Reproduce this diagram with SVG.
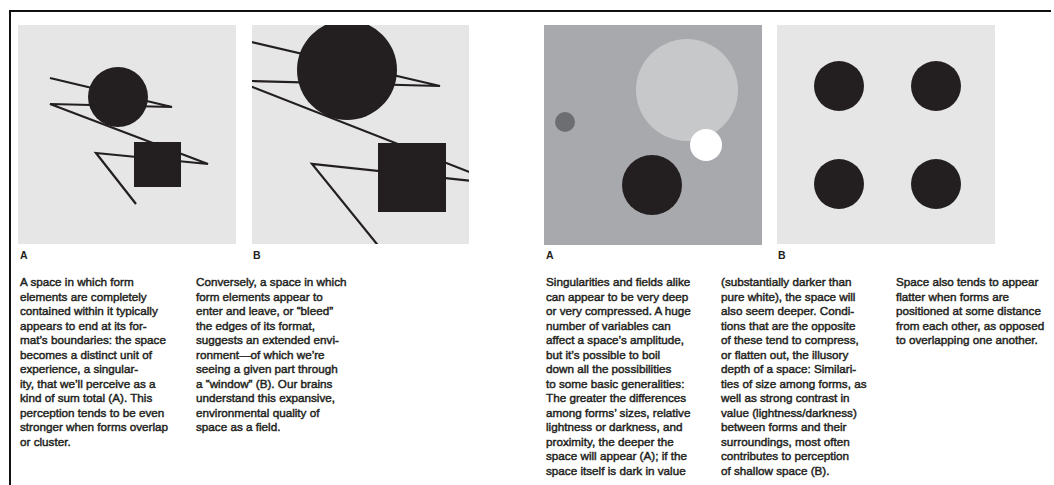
<svg xmlns="http://www.w3.org/2000/svg" width="1054" height="485" viewBox="0 0 1054 485">
<style>
.bg{fill:#ffffff}
.frame{stroke:#111;stroke-width:2;fill:none}
.light{fill:#e6e6e6}
.mid{fill:#a7a9ac}
.ink{fill:#231f20}
.ln{fill:none;stroke:#231f20;stroke-width:2.2;stroke-linejoin:miter}
.lbl{font-family:"Liberation Sans",Arial,sans-serif;font-size:10.5px;font-weight:bold;fill:#231f20}
.body{font-family:"Liberation Sans",Arial,sans-serif;font-size:11.7px;fill:#231f20;stroke:#231f20;stroke-width:0.45}
</style>
<defs>
<clipPath id="clipB"><rect x="252" y="25" width="217" height="219"/></clipPath>
</defs>
<rect class="bg" x="0" y="0" width="1054" height="485"/>
<path class="frame" d="M10,485 V11 H1051"/>

<g id="panel-left-A">
<rect class="light" x="18" y="25" width="218" height="219"/>
<circle class="ink" cx="118" cy="97" r="30"/>
<rect class="ink" x="134" y="142" width="47" height="45"/>
<polyline class="ln" points="50,78 172,107 50,104 208,164 96,153 136,204"/>
<text class="lbl" x="20" y="259">A</text>
</g>

<g id="panel-left-B">
<rect class="light" x="252" y="25" width="217" height="219"/>
<g clip-path="url(#clipB)">
<circle class="ink" cx="347" cy="70" r="50"/>
<rect class="ink" x="378" y="143" width="68" height="69"/>
<polyline class="ln" points="230,37 440,86 236,80.6 500,184 312,164 385,254"/>
</g>
<text class="lbl" x="253" y="259">B</text>
</g>

<g id="panel-right-A">
<rect class="mid" x="544" y="25" width="218" height="220"/>
<circle cx="687" cy="90" r="51" fill="#c7c8ca"/>
<circle cx="565" cy="122" r="10" fill="#6d6e71"/>
<circle cx="706" cy="145" r="16" fill="#ffffff"/>
<circle class="ink" cx="652" cy="185" r="30"/>
<text class="lbl" x="546" y="259">A</text>
</g>

<g id="panel-right-B">
<rect class="light" x="777" y="25" width="218" height="219"/>
<circle class="ink" cx="839" cy="86" r="25"/>
<circle class="ink" cx="936" cy="86" r="25"/>
<circle class="ink" cx="839" cy="184" r="25"/>
<circle class="ink" cx="936" cy="184" r="25"/>
<text class="lbl" x="778" y="259">B</text>
</g>

<g id="text-col-1">
<text class="body" y="286">
<tspan x="20">A space in which form</tspan>
<tspan x="20" dy="14.5">elements are completely</tspan>
<tspan x="20" dy="14.5">contained within it typically</tspan>
<tspan x="20" dy="14.5">appears to end at its for-</tspan>
<tspan x="20" dy="14.5">mat’s boundaries: the space</tspan>
<tspan x="20" dy="14.5">becomes a distinct unit of</tspan>
<tspan x="20" dy="14.5">experience, a singular-</tspan>
<tspan x="20" dy="14.5">ity, that we’ll perceive as a</tspan>
<tspan x="20" dy="14.5">kind of sum total (A). This</tspan>
<tspan x="20" dy="14.5">perception tends to be even</tspan>
<tspan x="20" dy="14.5">stronger when forms overlap</tspan>
<tspan x="20" dy="14.5">or cluster.</tspan>
</text>
</g>

<g id="text-col-2">
<text class="body" y="286">
<tspan x="196">Conversely, a space in which</tspan>
<tspan x="196" dy="14.5">form elements appear to</tspan>
<tspan x="196" dy="14.5">enter and leave, or “bleed”</tspan>
<tspan x="196" dy="14.5">the edges of its format,</tspan>
<tspan x="196" dy="14.5">suggests an extended envi-</tspan>
<tspan x="196" dy="14.5">ronment—of which we’re</tspan>
<tspan x="196" dy="14.5">seeing a given part through</tspan>
<tspan x="196" dy="14.5">a “window” (B). Our brains</tspan>
<tspan x="196" dy="14.5">understand this expansive,</tspan>
<tspan x="196" dy="14.5">environmental quality of</tspan>
<tspan x="196" dy="14.5">space as a field.</tspan>
</text>
</g>

<g id="text-col-3">
<text class="body" y="286">
<tspan x="546">Singularities and fields alike</tspan>
<tspan x="546" dy="14.5">can appear to be very deep</tspan>
<tspan x="546" dy="14.5">or very compressed. A huge</tspan>
<tspan x="546" dy="14.5">number of variables can</tspan>
<tspan x="546" dy="14.5">affect a space’s amplitude,</tspan>
<tspan x="546" dy="14.5">but it’s possible to boil</tspan>
<tspan x="546" dy="14.5">down all the possibilities</tspan>
<tspan x="546" dy="14.5">to some basic generalities:</tspan>
<tspan x="546" dy="14.5">The greater the differences</tspan>
<tspan x="546" dy="14.5">among forms’ sizes, relative</tspan>
<tspan x="546" dy="14.5">lightness or darkness, and</tspan>
<tspan x="546" dy="14.5">proximity, the deeper the</tspan>
<tspan x="546" dy="14.5">space will appear (A); if the</tspan>
<tspan x="546" dy="14.5">space itself is dark in value</tspan>
</text>
</g>

<g id="text-col-4">
<text class="body" y="286">
<tspan x="721">(substantially darker than</tspan>
<tspan x="721" dy="14.5">pure white), the space will</tspan>
<tspan x="721" dy="14.5">also seem deeper. Condi-</tspan>
<tspan x="721" dy="14.5">tions that are the opposite</tspan>
<tspan x="721" dy="14.5">of these tend to compress,</tspan>
<tspan x="721" dy="14.5">or flatten out, the illusory</tspan>
<tspan x="721" dy="14.5">depth of a space: Similari-</tspan>
<tspan x="721" dy="14.5">ties of size among forms, as</tspan>
<tspan x="721" dy="14.5">well as strong contrast in</tspan>
<tspan x="721" dy="14.5">value (lightness/darkness)</tspan>
<tspan x="721" dy="14.5">between forms and their</tspan>
<tspan x="721" dy="14.5">surroundings, most often</tspan>
<tspan x="721" dy="14.5">contributes to perception</tspan>
<tspan x="721" dy="14.5">of shallow space (B).</tspan>
</text>
</g>

<g id="text-col-5">
<text class="body" y="286">
<tspan x="896">Space also tends to appear</tspan>
<tspan x="896" dy="14.5">flatter when forms are</tspan>
<tspan x="896" dy="14.5">positioned at some distance</tspan>
<tspan x="896" dy="14.5">from each other, as opposed</tspan>
<tspan x="896" dy="14.5">to overlapping one another.</tspan>
</text>
</g>
</svg>
